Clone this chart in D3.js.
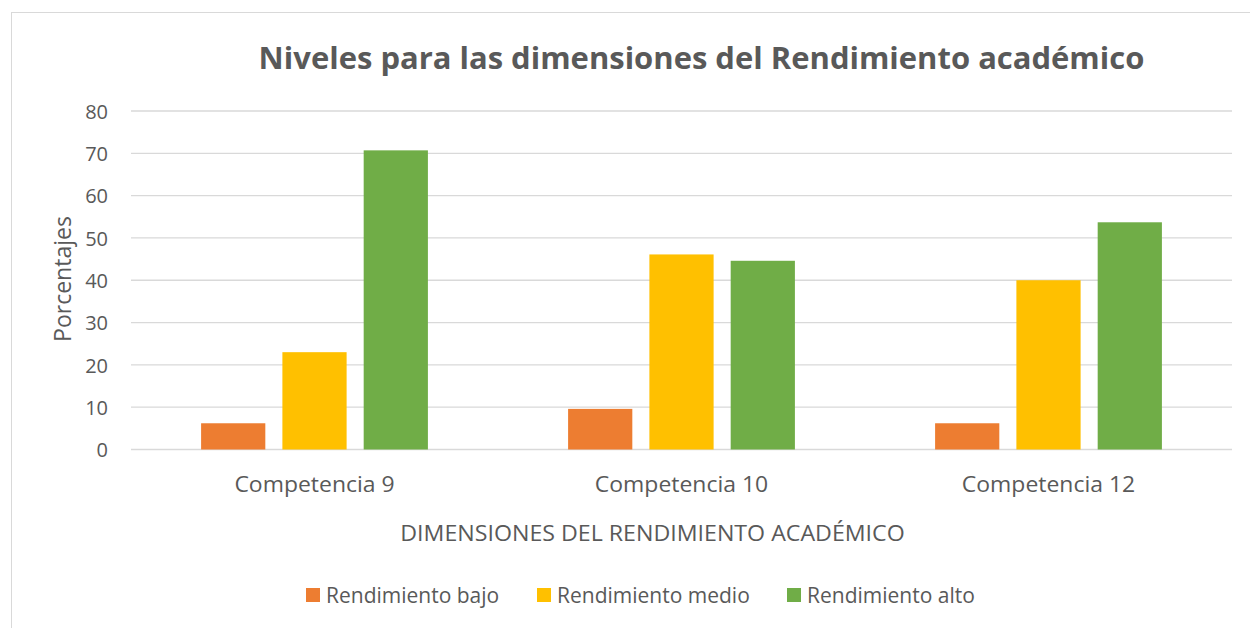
<!DOCTYPE html>
<html>
<head>
<meta charset="utf-8">
<script src="https://cdn.jsdelivr.net/npm/d3@7"></script>
<style>
  body { margin: 0; background: #fff; }
  text { font-family: "Open Sans", "Noto Sans", sans-serif; fill: #595959; }
</style>
</head>
<body>
<svg width="1250" height="628"></svg>
<script>
// chart data
var categories = ["Competencia 9", "Competencia 10", "Competencia 12"];
var series = ["Rendimiento bajo", "Rendimiento medio", "Rendimiento alto"];
var bajo = [6.2, 9.6, 6.2];
var medio = [23.0, 46.1, 40.0];
var alto = [70.7, 44.6, 53.7];
var yTicks = [0, 10, 20, 30, 40, 50, 60, 70, 80];
var colors = ["#ED7D31", "#FFC000", "#70AD47"];

var values = [bajo, medio, alto];

var svg = d3.select("svg");

var plotLeft = 131, plotRight = 1232, plotTop = 111, plotBottom = 449.5;

// stretch a text sideways so it takes the width of the original (Calibri) text
function stretch(sel, k) {
    sel.each(function() {
        var w = this.getComputedTextLength();
        d3.select(this).attr("textLength", w * k).attr("lengthAdjust", "spacingAndGlyphs");
    });
}

// chart frame (runs off the picture on the right and bottom)
svg.append("rect")
    .attr("x", 11.5).attr("y", 12.5)
    .attr("width", 1300).attr("height", 700)
    .attr("fill", "none")
    .attr("stroke", "#D9D9D9");

var x0 = d3.scaleBand()
    .domain(categories)
    .range([plotLeft, plotRight])
    .paddingInner(0.382)
    .paddingOuter(0.191);

var x1 = d3.scaleBand()
    .domain(series)
    .range([0, x0.bandwidth()])
    .paddingInner(0.21);

var y = d3.scaleLinear()
    .domain([0, 80])
    .range([plotBottom, plotTop]);

// gridlines
svg.append("g")
    .selectAll("line")
    .data(yTicks)
    .enter().append("line")
    .attr("x1", plotLeft).attr("x2", plotRight)
    .attr("y1", function(d) { return y(d); })
    .attr("y2", function(d) { return y(d); })
    .attr("stroke", "#D9D9D9")
    .attr("stroke-width", 1.3);

// y axis labels
var yAxis = svg.append("g")
    .attr("transform", "translate(" + (plotLeft - 23) + ",0)")
    .call(d3.axisLeft(y).tickValues(yTicks).tickSize(0).tickPadding(0));
yAxis.select(".domain").remove();
yAxis.selectAll("text")
    .style("font-size", "20px")
    .style("font-family", "'Open Sans', sans-serif")
    .attr("dy", "0.36em")
    .attr("fill", "#595959");

// bars
var groups = svg.append("g")
    .selectAll("g")
    .data(categories)
    .enter().append("g")
    .attr("transform", function(d) { return "translate(" + x0(d) + ",0)"; });

groups.selectAll("rect")
    .data(function(d, i) {
        return series.map(function(s, j) { return {s: s, v: values[j][i], c: colors[j]}; });
    })
    .enter().append("rect")
    .attr("x", function(d) { return x1(d.s); })
    .attr("y", function(d) { return y(d.v); })
    .attr("width", x1.bandwidth())
    .attr("height", function(d) { return plotBottom - y(d.v); })
    .attr("fill", function(d) { return d.c; });

// x axis labels
var xAxis = svg.append("g")
    .attr("transform", "translate(0," + plotBottom + ")")
    .call(d3.axisBottom(x0).tickSize(0).tickPadding(0));
xAxis.select(".domain").remove();
xAxis.selectAll("text")
    .attr("y", 42.5).attr("dy", 0)
    .style("font-size", "22.5px")
    .style("font-family", "'Open Sans', sans-serif")
    .attr("fill", "#595959")
    .call(stretch, 1.02);

// title
svg.append("text")
    .attr("x", 701.5).attr("y", 69)
    .attr("text-anchor", "middle")
    .style("font-size", "29.5px")
    .style("font-weight", "bold")
    .text("Niveles para las dimensiones del Rendimiento académico")
    .call(stretch, 1.05);

// axis titles
svg.append("text")
    .attr("transform", "translate(71,279) rotate(-90)")
    .attr("text-anchor", "middle")
    .style("font-size", "23px")
    .text("Porcentajes");

svg.append("text")
    .attr("x", 652.5).attr("y", 541)
    .attr("text-anchor", "middle")
    .style("font-size", "22.5px")
    .text("DIMENSIONES DEL RENDIMIENTO ACADÉMICO")
    .call(stretch, 1.03);

// legend
var legendX = [306, 537, 787];
var legend = svg.append("g")
    .selectAll("g")
    .data(series)
    .enter().append("g")
    .attr("transform", function(d, i) { return "translate(" + legendX[i] + ",588)"; });

legend.append("rect")
    .attr("width", 14).attr("height", 14)
    .attr("fill", function(d, i) { return colors[i]; });

legend.append("text")
    .attr("x", 20).attr("y", 15)
    .style("font-size", "21px")
    .text(function(d) { return d; });
</script>
</body>
</html>
